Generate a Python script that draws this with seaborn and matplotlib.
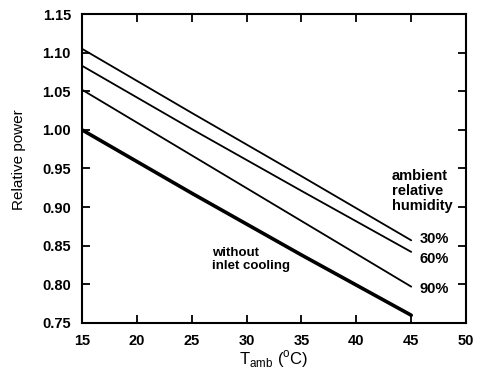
import matplotlib
matplotlib.use("Agg")
import matplotlib.pyplot as plt
import pandas as pd
import seaborn as sns

# data
t_amb = [15, 25, 35, 45]
rh_30 = [1.105, 1.022, 0.940, 0.857]
rh_60 = [1.083, 1.001, 0.921, 0.842]
rh_90 = [1.052, 0.967, 0.882, 0.797]
no_cooling = [1.000, 0.918, 0.838, 0.760]

x_ticks = [15, 20, 25, 30, 35, 40, 45, 50]
y_ticks = [0.75, 0.80, 0.85, 0.90, 0.95, 1.00, 1.05, 1.10, 1.15]

series = {"30%": rh_30, "60%": rh_60, "90%": rh_90, "without": no_cooling}
rows = []
for name, vals in series.items():
    for t, v in zip(t_amb, vals):
        rows.append({"T": t, "P": v, "case": name})
df = pd.DataFrame(rows)

sns.set_style("ticks", {"axes.edgecolor": "black", "text.color": "black",
                        "xtick.color": "black", "ytick.color": "black",
                        "axes.labelcolor": "black"})
plt.rcParams["font.family"] = ["Liberation Sans", "DejaVu Sans"]
plt.rcParams["mathtext.fontset"] = "custom"
plt.rcParams["mathtext.rm"] = "Liberation Sans"

fig = plt.figure(figsize=(4.81, 3.84), dpi=100)
ax = fig.add_axes([0.1705, 0.159, 0.7985, 0.8045])

sns.lineplot(data=df[df["case"] != "without"], x="T", y="P", units="case",
             estimator=None, color="black", lw=1.3, ax=ax, legend=False)
sns.lineplot(data=df[df["case"] == "without"], x="T", y="P",
             color="black", lw=2.6, ax=ax, legend=False)

ax.set_xlim(15, 50)
ax.set_ylim(0.75, 1.15)
ax.set_xticks(x_ticks)
ax.set_yticks(y_ticks)
ax.set_yticklabels([f"{v:.2f}" for v in y_ticks])
ax.tick_params(direction="in", top=True, right=True, length=6, width=1.3,
               labelsize=10.5, pad=8)
for lab in ax.get_xticklabels() + ax.get_yticklabels():
    lab.set_fontweight("bold")
for sp in ax.spines.values():
    sp.set_linewidth(1.5)
    sp.set_visible(True)

ax.set_xlabel(r"T$_{\rm amb}$ ($^{\rm o}$C)", fontsize=12, labelpad=0)
ax.set_ylabel("Relative power", fontsize=11)
ax.yaxis.set_label_coords(-0.145, 0.53)

ax.text(43.25, 0.921, "ambient\nrelative\nhumidity", fontsize=10.5,
        fontweight="bold", ha="left", va="center", linespacing=1.1)
ax.text(45.8, 0.859, "30%", fontsize=10.5, fontweight="bold", va="center")
ax.text(45.8, 0.833, "60%", fontsize=10.5, fontweight="bold", va="center")
ax.text(45.8, 0.794, "90%", fontsize=10.5, fontweight="bold", va="center")
ax.text(26.85, 0.832, "without\ninlet cooling", fontsize=9.5, fontweight="bold",
        ha="left", va="center", linespacing=1.15)

fig.savefig("out.png", dpi=100)
